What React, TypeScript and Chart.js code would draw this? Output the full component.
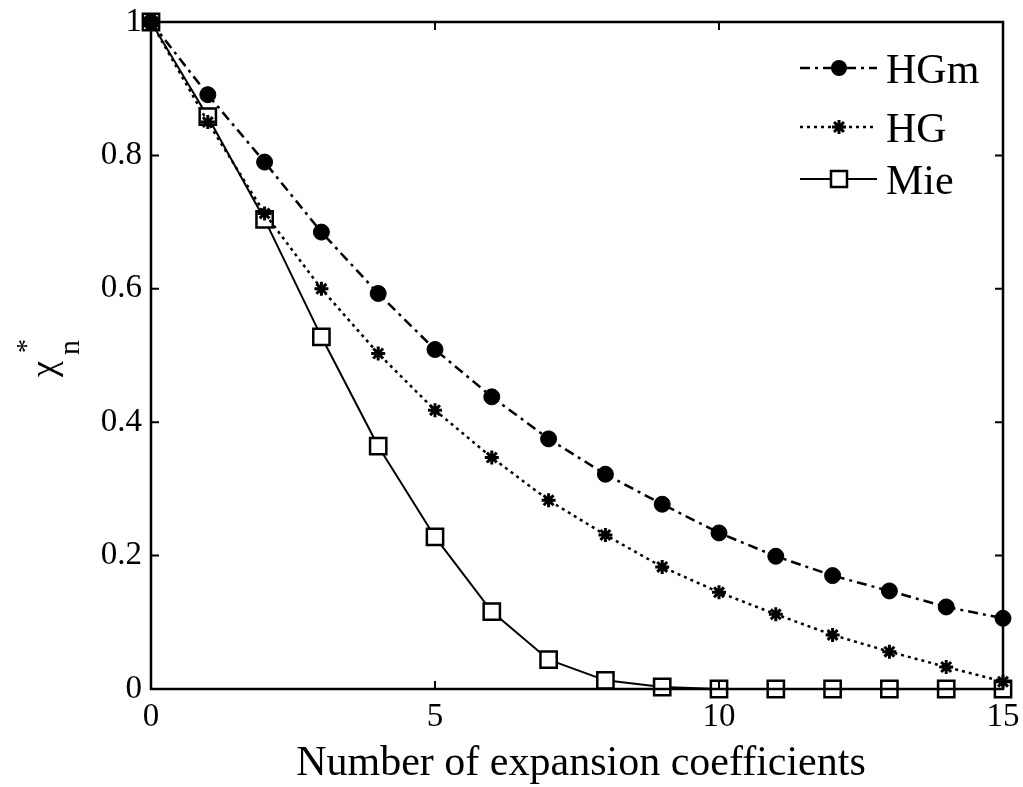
import React, { useEffect, useRef } from "react";
import { Chart, registerables } from "chart.js";

Chart.register(...registerables);

const coeffs = [0, 1, 2, 3, 4, 5, 6, 7, 8, 9, 10, 11, 12, 13, 14, 15];
const hgmValues = [1, 0.891, 0.79, 0.685, 0.593, 0.509, 0.438, 0.375, 0.322, 0.277, 0.234, 0.199, 0.17, 0.147, 0.123, 0.106];
const hgValues = [1, 0.85, 0.713, 0.6, 0.503, 0.418, 0.347, 0.283, 0.231, 0.183, 0.145, 0.112, 0.081, 0.056, 0.033, 0.011];
const mieValues = [1, 0.858, 0.704, 0.528, 0.364, 0.228, 0.116, 0.044, 0.013, 0.003, 0, 0, 0, 0, 0, 0];
const xTicks = [0, 5, 10, 15];
const yTicks = [0, 0.2, 0.4, 0.6, 0.8, 1];
const seriesNames = ["HGm", "HG", "Mie"];
const xTitle = "Number of expansion coefficients";

const FONT = "'Liberation Serif', 'Times New Roman', serif";

const dashHGm = [10, 5, 3, 5];
const dashHG = [3, 4];

function drawStar(ctx: CanvasRenderingContext2D, x: number, y: number, r: number) {
  ctx.save();
  ctx.setLineDash([]);
  ctx.lineWidth = 3;
  ctx.beginPath();
  for (let i = 0; i < 4; i++) {
    const a = (i * Math.PI) / 4;
    ctx.moveTo(x - Math.cos(a) * r, y - Math.sin(a) * r);
    ctx.lineTo(x + Math.cos(a) * r, y + Math.sin(a) * r);
  }
  ctx.stroke();
  ctx.restore();
}

const framePlugin = {
  id: "framePlugin",
  afterDraw(chart: any) {
    const ctx = chart.ctx as CanvasRenderingContext2D;
    const { left, right, top, bottom } = chart.chartArea;
    const xs = chart.scales.x;
    const ys = chart.scales.y;
    ctx.save();
    ctx.strokeStyle = "#000";
    ctx.fillStyle = "#000";
    ctx.lineWidth = 2.5;
    ctx.setLineDash([]);
    ctx.strokeRect(left, top, right - left, bottom - top);
    const tl = 8;
    ctx.lineWidth = 2;
    ctx.beginPath();
    xTicks.forEach((v) => {
      const px = xs.getPixelForValue(v);
      ctx.moveTo(px, bottom);
      ctx.lineTo(px, bottom - tl);
      ctx.moveTo(px, top);
      ctx.lineTo(px, top + tl);
    });
    yTicks.forEach((v) => {
      const py = ys.getPixelForValue(v);
      ctx.moveTo(left, py);
      ctx.lineTo(left + tl, py);
      ctx.moveTo(right, py);
      ctx.lineTo(right - tl, py);
    });
    ctx.stroke();

    // x title
    ctx.font = `42px ${FONT}`;
    ctx.textAlign = "center";
    ctx.textBaseline = "alphabetic";
    ctx.fillText(xTitle, 581, 775);

    // y title: chi*_n rotated
    ctx.save();
    ctx.translate(55, 377);
    ctx.rotate(-Math.PI / 2);
    ctx.textAlign = "left";
    ctx.font = `36px ${FONT}`;
    ctx.fillText("\u03c7", 0, 0);
    ctx.font = `28px ${FONT}`;
    ctx.fillText("*", 24, -20);
    ctx.font = `30px ${FONT}`;
    ctx.fillText("n", 22, 24);
    ctx.restore();

    // legend
    const rows = [
      { y: 68, base: 83, dash: dashHGm, lw: 2.5, marker: "circle" },
      { y: 127, base: 142, dash: dashHG, lw: 2.5, marker: "star" },
      { y: 179, base: 194, dash: [] as number[], lw: 2, marker: "rect" },
    ];
    rows.forEach((r, i) => {
      ctx.lineWidth = r.lw;
      ctx.setLineDash(r.dash);
      ctx.beginPath();
      ctx.moveTo(800, r.y);
      ctx.lineTo(877, r.y);
      ctx.stroke();
      ctx.setLineDash([]);
      const mx = 839;
      if (r.marker === "circle") {
        ctx.beginPath();
        ctx.arc(mx, r.y, 8, 0, Math.PI * 2);
        ctx.fill();
      } else if (r.marker === "star") {
        drawStar(ctx, mx, r.y, 7);
      } else {
        ctx.fillStyle = "#fff";
        ctx.fillRect(mx - 8, r.y - 8, 16, 16);
        ctx.fillStyle = "#000";
        ctx.lineWidth = 2.5;
        ctx.strokeRect(mx - 8, r.y - 8, 16, 16);
      }
      ctx.font = `42px ${FONT}`;
      ctx.textAlign = "left";
      ctx.textBaseline = "alphabetic";
      ctx.fillText(seriesNames[i], 886, r.base);
    });
    ctx.restore();
  },
};

export default function App() {
  const canvasRef = useRef<HTMLCanvasElement | null>(null);

  useEffect(() => {
    document.body.style.margin = "0";
    const canvas = canvasRef.current;
    if (!canvas) return;
    const toPts = (vals: number[]) => coeffs.map((x, i) => ({ x, y: vals[i] }));
    const chart = new Chart(canvas, {
      type: "line",
      data: {
        datasets: [
          {
            label: seriesNames[0],
            data: toPts(hgmValues),
            borderColor: "#000",
            backgroundColor: "#000",
            borderWidth: 2.5,
            borderDash: dashHGm,
            pointStyle: "circle",
            pointRadius: 8,
            pointBorderWidth: 1,
            pointBackgroundColor: "#000",
            pointBorderColor: "#000",
            tension: 0,
            clip: false,
          },
          {
            label: seriesNames[1],
            data: toPts(hgValues),
            borderColor: "#000",
            backgroundColor: "#000",
            borderWidth: 2.5,
            borderDash: dashHG,
            pointStyle: "star",
            pointRadius: 7,
            pointBorderWidth: 3,
            pointBorderColor: "#000",
            tension: 0,
            clip: false,
          },
          {
            label: seriesNames[2],
            data: toPts(mieValues),
            borderColor: "#000",
            backgroundColor: "#fff",
            borderWidth: 2,
            pointStyle: "rect",
            pointRadius: 11.5,
            pointBorderWidth: 2.5,
            pointBackgroundColor: "#fff",
            pointBorderColor: "#000",
            tension: 0,
            clip: false,
          },
        ],
      },
      options: {
        animation: false,
        responsive: false,
        devicePixelRatio: 1,
        layout: { padding: { left: 0, right: 20, top: 22, bottom: 0 } },
        plugins: { legend: { display: false }, tooltip: { enabled: false } },
        scales: {
          x: {
            type: "linear",
            min: 0,
            max: 15,
            afterFit: (s: any) => {
              s.height = 98;
              s.paddingLeft = 0;
              s.paddingRight = 0;
            },
            afterBuildTicks: (s: any) => {
              s.ticks = xTicks.map((v) => ({ value: v }));
            },
            grid: { display: false, drawTicks: false },
            border: { display: false },
            ticks: {
              color: "#000",
              font: { family: FONT, size: 33 },
              padding: 9,
              maxRotation: 0,
              autoSkip: false,
            },
          },
          y: {
            type: "linear",
            min: 0,
            max: 1,
            afterFit: (s: any) => {
              s.width = 151;
              s.paddingTop = 0;
              s.paddingBottom = 0;
            },
            afterBuildTicks: (s: any) => {
              s.ticks = yTicks.map((v) => ({ value: v }));
            },
            grid: { display: false, drawTicks: false },
            border: { display: false },
            ticks: {
              color: "#000",
              font: { family: FONT, size: 33 },
              padding: 9,
              autoSkip: false,
              callback: (v: any) => String(Math.round(Number(v) * 10) / 10),
            },
          },
        },
      },
      plugins: [framePlugin],
    });
    return () => chart.destroy();
  }, []);

  return (
    <div style={{ position: "absolute", left: 0, top: 0, width: 1023, height: 787, background: "#fff" }}>
      <canvas ref={canvasRef} width={1023} height={787} style={{ display: "block" }} />
    </div>
  );
}
